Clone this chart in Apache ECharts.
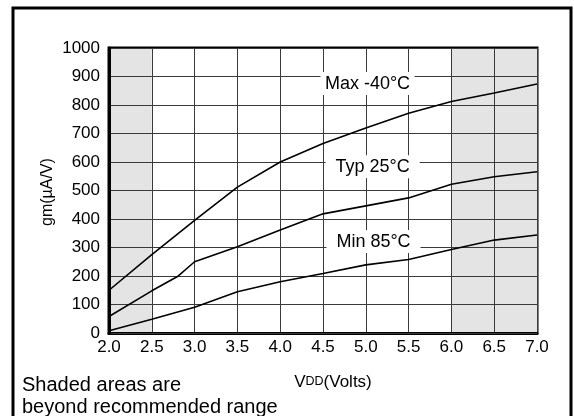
<!DOCTYPE html>
<html><head><meta charset="utf-8">
<script src="https://cdn.jsdelivr.net/npm/echarts@6/dist/echarts.min.js"></script>
<style>html,body{margin:0;padding:0;background:#fff}#c{width:574px;height:416px}</style>
</head><body><div id="c"></div>
<script>
var FONT = '"Liberation Sans", Arial, sans-serif';
var xTicks = [2.0, 2.5, 3.0, 3.5, 4.0, 4.5, 5.0, 5.5, 6.0, 6.5, 7.0];
var yTicks = [0, 100, 200, 300, 400, 500, 600, 700, 800, 900, 1000];
var maxV = [2.0, 2.5, 3.0, 3.5, 4.0, 4.5, 5.0, 5.5, 6.0, 6.5, 7.0];
var maxGm = [150, 275, 395, 512, 600, 665, 719, 771, 812, 842, 874];
var typV = [2.0, 2.5, 2.8, 3.0, 3.5, 4.0, 4.5, 5.0, 5.5, 6.0, 6.5, 7.0];
var typGm = [58, 148, 198, 250, 303, 361, 418, 446, 474, 522, 548, 566];
var minV = [2.0, 2.5, 3.0, 3.5, 4.0, 4.5, 5.0, 5.5, 6.0, 6.5, 7.0];
var minGm = [8, 48, 90, 145, 180, 209, 239, 258, 293, 326, 344];
var curveNames = ['Max -40°C', 'Typ 25°C', 'Min 85°C'];
var labelV = [5.02, 5.08, 5.09];
var labelGm = [874, 582, 319];
var shadedRanges = [[2.0, 2.5], [6.0, 7.0]];

function pairs(xs, ys) { return xs.map(function (x, i) { return [x, ys[i]]; }); }
var areaColors = [];
for (var i = 0; i < xTicks.length - 1; i++) {
  var mid = (xTicks[i] + xTicks[i + 1]) / 2;
  var shaded = shadedRanges.some(function (r) { return mid > r[0] && mid < r[1]; });
  areaColors.push(shaded ? '#e4e4e4' : '#ffffff');
}

var chart = echarts.init(document.getElementById('c'));
var lineStyle = { color: '#000', width: 1.6 };
chart.setOption({
  animation: false,
  grid: { left: 109, right: 37, top: 48, bottom: 83, show: true, borderColor: '#000', borderWidth: 3, backgroundColor: 'transparent' },
  xAxis: {
    type: 'value', min: xTicks[0], max: xTicks[xTicks.length - 1], interval: 0.5, z: 0,
    axisLine: { show: true, lineStyle: { color: '#000', width: 3 } },
    axisTick: { show: false },
    axisLabel: { color: '#000', fontFamily: FONT, fontSize: 17, margin: 6, formatter: function (v) { return v.toFixed(1); } },
    splitLine: { show: true, lineStyle: { color: '#3a3a3a', width: 1 } },
    splitArea: { show: true, areaStyle: { color: areaColors } }
  },
  yAxis: {
    type: 'value', min: yTicks[0], max: yTicks[yTicks.length - 1], interval: 100, z: 1,
    axisLine: { show: true, lineStyle: { color: '#000', width: 3 } },
    axisTick: { show: false },
    axisLabel: { color: '#000', fontFamily: FONT, fontSize: 17, margin: 9, formatter: function (v) { return String(v); } },
    splitLine: { show: true, lineStyle: { color: '#3a3a3a', width: 1 } }
  },
  series: [
    { type: 'line', data: pairs(maxV, maxGm), symbol: 'none', lineStyle: lineStyle, z: 3 },
    { type: 'line', data: pairs(typV, typGm), symbol: 'none', lineStyle: lineStyle, z: 3 },
    { type: 'line', data: pairs(minV, minGm), symbol: 'none', lineStyle: lineStyle, z: 3 }
  ]
});
var graphics = [
  { type: 'rect', shape: { x: 13, y: 8, width: 558, height: 430 }, style: { fill: 'none', stroke: '#000', lineWidth: 3 }, z: 10 },
  { type: 'text', x: 48, y: 192, rotation: Math.PI / 2, style: { text: 'gm(µA/V)', font: '16px ' + FONT, fill: '#000', textAlign: 'center', textVerticalAlign: 'middle' } },
  { type: 'text', x: 333, y: 382, style: { text: '{a|V}{b|DD}{a|(Volts)}', textAlign: 'center', textVerticalAlign: 'middle',
      rich: { a: { fontFamily: FONT, fontSize: 17, fill: '#000' }, b: { fontFamily: FONT, fontSize: 12.5, fill: '#000' } } } },
  { type: 'text', x: 22, y: 385, style: { text: 'Shaded areas are', font: '20px ' + FONT, fill: '#000', textVerticalAlign: 'middle' } },
  { type: 'text', x: 22, y: 407, style: { text: 'beyond recommended range', font: '20px ' + FONT, fill: '#000', textVerticalAlign: 'middle' } }
];
curveNames.forEach(function (n, i) {
  var p = chart.convertToPixel({ gridIndex: 0 }, [labelV[i], labelGm[i]]);
  graphics.push({ type: 'rect', z: 5, shape: { x: p[0] - 47, y: p[1] - 12, width: 94, height: 23 }, style: { fill: '#fff' } });
  graphics.push({ type: 'text', z: 6, x: p[0], y: p[1], style: { text: n, font: '18px ' + FONT, fill: '#000', textAlign: 'center', textVerticalAlign: 'middle' } });
});
chart.setOption({ graphic: graphics });
</script></body></html>
